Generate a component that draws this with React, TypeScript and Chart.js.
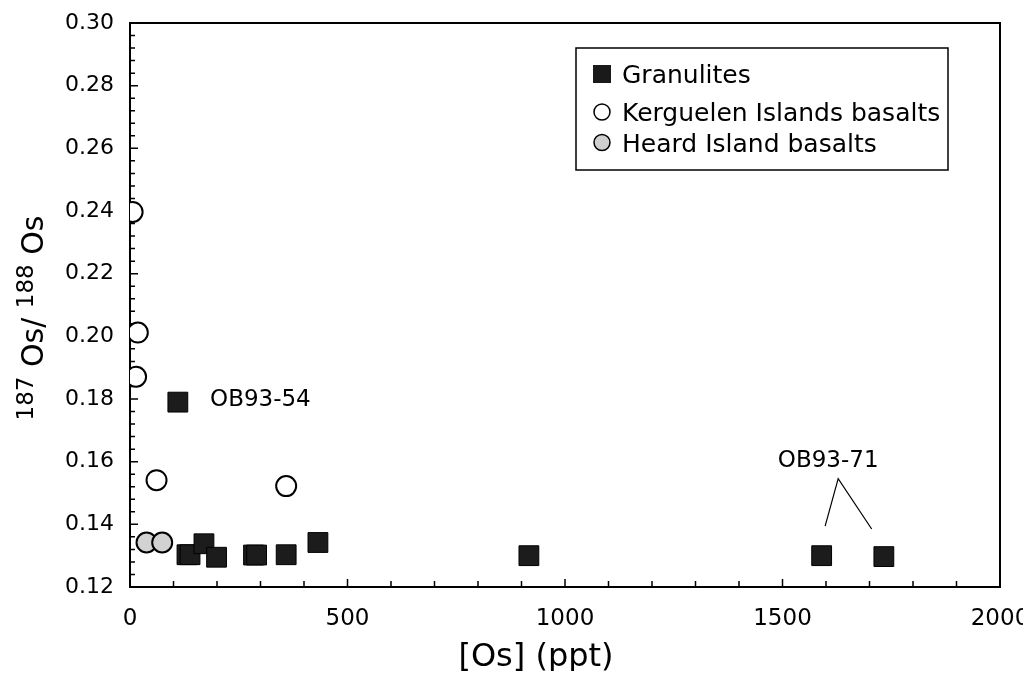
import React, { useEffect, useRef } from "react";
import { Chart, registerables } from "chart.js";

Chart.register(...registerables);

// ---- Data ----
const granuliteOs = [110, 131, 138, 170, 199, 284, 291, 359, 432, 917, 1590, 1733];
const granuliteRatio = [0.179, 0.1303, 0.1303, 0.1338, 0.1295, 0.1302, 0.1302, 0.1303, 0.1342, 0.13, 0.13, 0.1297];

const kerguelenOs = [6, 18, 14, 61, 359];
const kerguelenRatio = [0.2397, 0.2012, 0.1871, 0.1541, 0.1522];

const heardOs = [38, 74];
const heardRatio = [0.1342, 0.1342];

const xTickValues = [0, 500, 1000, 1500, 2000];
const yTickValues = [0.12, 0.14, 0.16, 0.18, 0.2, 0.22, 0.24, 0.26, 0.28, 0.3];

const seriesNames = ["Granulites", "Kerguelen Islands basalts", "Heard Island basalts"];
const xTitle = "[Os] (ppt)";
const sampleLabels = ["OB93-54", "OB93-71"];

const FONT = "'DejaVu Sans', sans-serif";

function toPoints(xs: number[], ys: number[]) {
  return xs.map((x, i) => ({ x, y: ys[i] }));
}

export default function App() {
  const ref = useRef<HTMLCanvasElement>(null);

  useEffect(() => {
    const canvas = ref.current;
    if (!canvas) return;

    const framePlugin = {
      id: "frame",
      beforeDatasetsDraw(chart: any) {
        const ctx = chart.ctx;
        const { left, top, right, bottom } = chart.chartArea;
        const xs = chart.scales.x;
        const ys = chart.scales.y;
        ctx.save();
        ctx.strokeStyle = "#000";
        ctx.lineWidth = 2;
        ctx.strokeRect(left, top, right - left, bottom - top);
        ctx.lineWidth = 1.5;
        ctx.beginPath();
        for (let i = 0; i <= 20; i++) {
          const px = xs.getPixelForValue(i * 100);
          const len = i % 5 === 0 ? 8 : 6;
          ctx.moveTo(px, bottom);
          ctx.lineTo(px, bottom - len);
        }
        for (let i = 0; i <= 45; i++) {
          const py = ys.getPixelForValue(0.12 + i * 0.004);
          const len = i % 5 === 0 ? 8 : 5;
          ctx.moveTo(left, py);
          ctx.lineTo(left + len, py);
        }
        ctx.stroke();
        ctx.restore();
      },
      afterDraw(chart: any) {
        const ctx = chart.ctx;
        const xs = chart.scales.x;
        const ys = chart.scales.y;
        ctx.save();
        ctx.fillStyle = "#000";
        ctx.strokeStyle = "#000";

        // Y axis title: 187Os/188Os
        const bigF = `30px ${FONT}`;
        const supF = `23px ${FONT}`;
        const parts = [
          { t: "187", sup: true },
          { t: " Os/ ", sup: false },
          { t: "188", sup: true },
          { t: " Os", sup: false },
        ];
        let total = 0;
        const widths = parts.map((p) => {
          ctx.font = p.sup ? supF : bigF;
          const w = ctx.measureText(p.t).width;
          total += w;
          return w;
        });
        ctx.save();
        ctx.translate(35, 310);
        ctx.rotate(-Math.PI / 2);
        ctx.textBaseline = "alphabetic";
        ctx.textAlign = "left";
        let cx = -total / 2;
        parts.forEach((p, i) => {
          ctx.font = p.sup ? supF : bigF;
          ctx.fillText(p.t, cx, p.sup ? -10 : 0);
          cx += widths[i];
        });
        ctx.restore();

        // X axis title
        ctx.font = `32px ${FONT}`;
        ctx.textAlign = "center";
        ctx.textBaseline = "middle";
        ctx.fillText(xTitle, 528, 650);

        // Legend box
        ctx.lineWidth = 1.5;
        ctx.strokeRect(568, 40, 372, 122);
        const lx = 594;
        const tx = 614;
        const rows = [75, 113, 143.5];
        ctx.font = `25px ${FONT}`;
        ctx.textAlign = "left";
        ctx.textBaseline = "alphabetic";
        seriesNames.forEach((name, i) => {
          const cy = rows[i] - 9;
          ctx.lineWidth = 1.5;
          if (i === 0) {
            ctx.fillStyle = "#1a1a1a";
            ctx.fillRect(lx - 9, cy - 9, 18, 18);
          } else {
            ctx.beginPath();
            ctx.arc(lx, cy, 8, 0, Math.PI * 2);
            ctx.fillStyle = i === 1 ? "#fff" : "#cfcfcf";
            ctx.fill();
            ctx.stroke();
          }
          ctx.fillStyle = "#000";
          ctx.fillText(name, tx, rows[i]);
        });

        // Sample annotations
        ctx.font = `23px ${FONT}`;
        ctx.textBaseline = "middle";
        ctx.textAlign = "left";
        ctx.fillText(sampleLabels[0], xs.getPixelForValue(184), ys.getPixelForValue(0.1796));
        ctx.textAlign = "center";
        ctx.fillText(sampleLabels[1], xs.getPixelForValue(1605), ys.getPixelForValue(0.1601));
        ctx.lineWidth = 1.2;
        const ax = xs.getPixelForValue(1628);
        const ay = ys.getPixelForValue(0.1546);
        ctx.beginPath();
        ctx.moveTo(xs.getPixelForValue(1598), ys.getPixelForValue(0.1394));
        ctx.lineTo(ax, ay);
        ctx.lineTo(xs.getPixelForValue(1705), ys.getPixelForValue(0.1385));
        ctx.stroke();

        ctx.restore();
      },
    };

    const chart = new Chart(canvas, {
      type: "scatter",
      data: {
        datasets: [
          {
            label: seriesNames[0],
            data: toPoints(granuliteOs, granuliteRatio),
            pointStyle: "rect",
            pointRadius: 14,
            backgroundColor: "#1c1c1c",
            borderColor: "#000",
            borderWidth: 1,
          },
          {
            label: seriesNames[1],
            data: toPoints(kerguelenOs, kerguelenRatio),
            pointStyle: "circle",
            pointRadius: 10,
            backgroundColor: "#fff",
            borderColor: "#000",
            borderWidth: 2,
          },
          {
            label: seriesNames[2],
            data: toPoints(heardOs, heardRatio),
            pointStyle: "circle",
            pointRadius: 10,
            backgroundColor: "#d2d2d2",
            borderColor: "#000",
            borderWidth: 2,
          },
        ],
      },
      options: {
        animation: false,
        responsive: false,
        devicePixelRatio: 1,
        layout: { padding: { top: 5, right: 31, bottom: 0, left: 0 } },
        plugins: {
          legend: { display: false },
          tooltip: { enabled: false },
        },
        scales: {
          x: {
            type: "linear",
            min: 0,
            max: 2000,
            grid: { display: false, drawTicks: false },
            border: { display: false },
            ticks: {
              font: { family: FONT, size: 23 },
              color: "#000",
              padding: 18,
              maxRotation: 0,
              callback: (v: any) => String(v),
            },
            afterBuildTicks: (s: any) => {
              s.ticks = xTickValues.map((v) => ({ value: v }));
            },
            afterFit: (s: any) => {
              s.height = 84;
              s.paddingLeft = 0;
              s.paddingRight = 0;
            },
          },
          y: {
            type: "linear",
            min: 0.12,
            max: 0.3,
            grid: { display: false, drawTicks: false },
            border: { display: false },
            ticks: {
              font: { family: FONT, size: 22 },
              color: "#000",
              padding: 16,
              callback: (v: any) => Number(v).toFixed(2),
            },
            afterBuildTicks: (s: any) => {
              s.ticks = yTickValues.map((v) => ({ value: v }));
            },
            afterFit: (s: any) => {
              s.width = 122;
              s.paddingTop = 0;
              s.paddingBottom = 0;
            },
          },
        },
      },
      plugins: [framePlugin],
    });

    return () => chart.destroy();
  }, []);

  return (
    <div style={{ width: 1023, height: 663 }}>
      <canvas ref={ref} width={1023} height={663} style={{ display: "block" }} />
    </div>
  );
}
